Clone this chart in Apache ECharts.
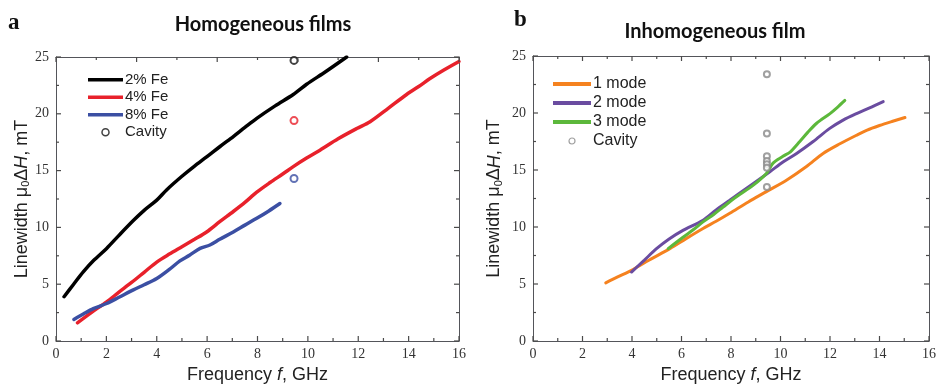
<!DOCTYPE html>
<html>
<head>
<meta charset="utf-8">
<script src="https://cdn.jsdelivr.net/npm/echarts@6/dist/echarts.min.js"></script>
<style>
  html, body { margin: 0; padding: 0; background: #fff; }
  #chart { width: 937px; height: 384px; }
</style>
</head>
<body>
<div id="chart"></div>
<script>
// Panel a: homogeneous films, linewidth vs frequency [GHz, mT]
const fe2 = [[0.32,3.9],[0.7,5.0],[1.09,6.1],[1.5,7.1],[2.01,8.15],[2.5,9.3],[3.07,10.6],[3.5,11.5],[4.0,12.4],[4.39,13.3],[5.0,14.5],[5.5,15.4],[5.98,16.2],[6.5,17.1],[7.04,18.0],[7.5,18.8],[7.97,19.6],[8.7,20.7],[9.42,21.7],[9.95,22.6],[10.7,23.7],[11.54,25.0]];
const fe4 = [[0.85,1.6],[1.4,2.5],[2.01,3.45],[2.5,4.3],[3.0,5.15],[3.5,6.05],[4.0,6.95],[4.5,7.65],[5.0,8.3],[5.5,8.95],[5.98,9.6],[6.5,10.5],[7.04,11.4],[7.5,12.2],[7.97,13.1],[8.5,13.95],[9.0,14.7],[9.42,15.35],[9.95,16.1],[10.48,16.8],[11.2,17.8],[11.94,18.7],[12.47,19.3],[13.2,20.5],[13.92,21.7],[14.4,22.4],[14.85,23.1],[15.4,23.85],[16.0,24.6]];
const fe8 = [[0.71,1.9],[1.1,2.4],[1.48,2.85],[2.01,3.3],[2.5,3.85],[3.07,4.5],[3.5,4.95],[4.0,5.5],[4.5,6.3],[4.92,7.05],[5.3,7.55],[5.72,8.15],[6.11,8.45],[6.5,8.95],[7.04,9.6],[7.5,10.2],[7.97,10.8],[8.45,11.45],[8.89,12.1]];
const cavityA = [[9.45,24.7],[9.45,19.4],[9.45,14.3]];
const cavityAColors = ['#111111','#e8212b','#3b4fa3'];

// Panel b: inhomogeneous film, one to three modes
const mode1 = [[2.94,5.1],[3.4,5.6],[3.98,6.2],[4.7,7.1],[5.53,8.1],[6.2,9.0],[6.87,9.87],[7.4,10.5],[7.95,11.2],[8.7,12.2],[9.43,13.1],[10.24,14.1],[11.05,15.3],[11.72,16.45],[12.4,17.3],[13.07,18.05],[13.5,18.5],[14.0,18.9],[14.5,19.25],[15.03,19.6]];
const mode2 = [[3.98,6.05],[4.5,7.1],[4.99,8.1],[5.5,8.95],[6.06,9.7],[6.87,10.6],[7.4,11.5],[7.95,12.35],[8.4,13.05],[8.89,13.8],[9.57,14.85],[10.1,15.7],[10.65,16.45],[11.32,17.5],[11.99,18.65],[12.53,19.38],[13.07,19.95],[13.6,20.45],[14.15,21.0]];
const mode3 = [[5.46,8.1],[6.06,9.1],[6.5,9.8],[6.87,10.45],[7.3,11.1],[7.68,11.75],[8.22,12.65],[8.89,13.65],[9.43,14.7],[9.7,15.6],[10.1,16.2],[10.4,16.6],[10.78,17.5],[11.1,18.3],[11.46,19.1],[12.0,19.95],[12.3,20.5],[12.6,21.1]];
const cavityB = [[9.45,23.4],[9.45,18.2],[9.45,16.2],[9.45,15.8],[9.45,15.5],[9.45,15.2],[9.45,13.5]];

const xTicks = [0, 2, 4, 6, 8, 10, 12, 14, 16];
const yTicks = [0, 5, 10, 15, 20, 25];

const AXIS_COLOR = '#4a4a4a';
const SANS = 'Liberation Sans';
const SERIF = 'Liberation Serif';

const yName = '{a|Linewidth μ}{s|0}{a|Δ}{i|H}{a|, mT}';
const xName = '{a|Frequency }{i|f}{a|, GHz}';
const nameRich = {
  a: { fontFamily: SANS, fontSize: 18, color: '#222' },
  i: { fontFamily: SANS, fontSize: 18, fontStyle: 'italic', color: '#222' },
  s: { fontFamily: SANS, fontSize: 11, color: '#222', verticalAlign: 'bottom', padding: [8, 0, 0, 0] }
};

const chart = echarts.init(document.getElementById('chart'));

// Plot frames of the two panels (grid offsets in px); topMax is the range of the unlabelled top scale
const frames = [
  { left: 56, right: 478, top: 57, bottom: 43, topMax: 10 },
  { left: 533, right: 8, top: 56, bottom: 43, topMax: 16 }
];

const grids = [];
const xAxes = [];
const yAxes = [];

// mirrored: the top/right frame axes, which must not snap to the zero line
function frameAxis(mirrored, extra) {
  const line = mirrored ? { show: true, onZero: false } : { show: true };
  return Object.assign({
    type: 'value',
    axisLine: line,
    axisTick: { show: false },
    minorTick: { show: false },
    splitLine: { show: false },
    axisLabel: { show: false }
  }, extra);
}

// axis order per panel k: x 2k = bottom, x 2k+1 = top, y 2k = left, y 2k+1 = right
frames.forEach((f, k) => {
  grids.push({ left: f.left, right: f.right, top: f.top, bottom: f.bottom, outerBoundsMode: 'none' });
  xAxes.push(
    frameAxis(false, {
      gridIndex: k, position: 'bottom', min: xTicks[0], max: xTicks[xTicks.length - 1], interval: 2,
      axisLabel: { show: true, fontFamily: SERIF, fontSize: 14, color: '#333', margin: 6 },
      name: xName, nameLocation: 'middle', nameGap: k === 0 ? 23 : 22, nameTextStyle: { rich: nameRich }
    }),
    frameAxis(true, { gridIndex: k, position: 'top', min: 0, max: f.topMax, interval: 2 })
  );
  yAxes.push(
    frameAxis(false, {
      gridIndex: k, position: 'left', min: yTicks[0], max: yTicks[yTicks.length - 1], interval: 5,
      axisLabel: { show: true, fontFamily: SERIF, fontSize: 14, color: '#333', margin: 7 },
      name: yName, nameLocation: 'middle', nameGap: k === 0 ? 24 : 29, nameRotate: 90, nameTextStyle: { rich: nameRich }
    }),
    frameAxis(true, { gridIndex: k, position: 'right', min: 0, max: 25, interval: 5 })
  );
});

function lineSeries(name, data, color, width, xi, yi) {
  return {
    name, type: 'line', data, xAxisIndex: xi, yAxisIndex: yi,
    symbol: 'none', showSymbol: false, smooth: 0.3, clip: true,
    lineStyle: { color, width, cap: 'round' }, itemStyle: { color },
    z: 3
  };
}

// Legend swatch for a line: a thin horizontal bar
const LINE_ICON = 'path://M0,0L40,0L40,4L0,4Z';
function lineItem(name) { return { name, icon: LINE_ICON }; }

chart.setOption({
  animation: false,
  title: [
    { text: 'a', left: 3, top: 7, textStyle: { fontFamily: SERIF, fontWeight: 'bold', fontSize: 23, color: '#111' } },
    { text: 'Homogeneous films', left: 258, top: 10, textAlign: 'center', textStyle: { fontFamily: 'Lato', fontWeight: 'bold', fontSize: 20, color: '#111' } },
    { text: 'b', left: 509, top: 4, textStyle: { fontFamily: SERIF, fontWeight: 'bold', fontSize: 23, color: '#111' } },
    { text: 'Inhomogeneous film', left: 710, top: 17, textAlign: 'center', textStyle: { fontFamily: 'Lato', fontWeight: 'bold', fontSize: 20, color: '#111' } }
  ],
  grid: grids,
  xAxis: xAxes,
  yAxis: yAxes,
  legend: [
    {
      left: 88, top: 71, padding: 0, orient: 'vertical', itemWidth: 35, itemHeight: 7, itemGap: 0,
      textStyle: { fontFamily: SANS, fontSize: 15, color: '#222', padding: [0, 0, 0, -3], lineHeight: 17.5 },
      data: [lineItem('2% Fe'), lineItem('4% Fe'), lineItem('8% Fe'),
        { name: 'Cavity', icon: 'circle', itemStyle: { color: '#fff', borderColor: '#111', borderWidth: 1.5 } }]
    },
    {
      left: 553, top: 75, padding: 0, orient: 'vertical', itemWidth: 38, itemHeight: 6, itemGap: 1,
      textStyle: { fontFamily: SANS, fontSize: 16, color: '#222', padding: [0, 0, 0, -3], lineHeight: 18 },
      data: [lineItem('1 mode'), lineItem('2 mode'), lineItem('3 mode'),
        { name: 'Cavity ', icon: 'circle', itemStyle: { color: '#fff', borderColor: '#888', borderWidth: 1.2 } }]
    }
  ],
  series: [
    lineSeries('2% Fe', fe2, '#000000', 3.5, 0, 0),
    lineSeries('4% Fe', fe4, '#e8212b', 3.5, 0, 0),
    lineSeries('8% Fe', fe8, '#3b4fa3', 3.5, 0, 0),
    {
      name: 'Cavity', type: 'scatter', xAxisIndex: 0, yAxisIndex: 0,
      symbol: 'emptyCircle', symbolSize: 7,
      itemStyle: { color: '#111', borderWidth: 1.5 },
      data: cavityA.map((p, i) => ({ value: p, itemStyle: { color: cavityAColors[i], borderColor: cavityAColors[i] } })),
      z: 4
    },
    lineSeries('1 mode', mode1, '#f5821f', 3, 2, 2),
    lineSeries('2 mode', mode2, '#6a4ca0', 3, 2, 2),
    lineSeries('3 mode', mode3, '#5cb83b', 3, 2, 2),
    {
      name: 'Cavity ', type: 'scatter', xAxisIndex: 2, yAxisIndex: 2,
      symbol: 'emptyCircle', symbolSize: 6,
      itemStyle: { color: '#888', borderColor: '#888', borderWidth: 1.2 },
      data: cavityB,
      z: 4
    }
  ]
});

// Inward frame ticks on all four sides, placed through the axes' own scales.
// Major ticks (5 px) at the labelled steps, minor ticks (3 px) halfway between.
const MAJOR = 5, MINOR = 3;
const tickLines = [];
function tick(x1, y1, x2, y2) {
  tickLines.push({
    type: 'line', silent: true, z: 10,
    shape: { x1, y1, x2, y2 },
    style: { stroke: AXIS_COLOR, lineWidth: 1.2 }
  });
}
frames.forEach((f, k) => {
  const xb = 2 * k, xt = 2 * k + 1, yl = 2 * k, yr = 2 * k + 1;
  const px = (axis, v) => chart.convertToPixel({ xAxisIndex: axis }, v);
  const py = (axis, v) => chart.convertToPixel({ yAxisIndex: axis }, v);
  const yBottom = py(yl, yTicks[0]);
  const yTop = py(yl, yTicks[yTicks.length - 1]);
  const xLeft = px(xb, xTicks[0]);
  const xRight = px(xb, xTicks[xTicks.length - 1]);
  // bottom: step 1 GHz, every 2 GHz is major
  for (let v = xTicks[0]; v <= xTicks[xTicks.length - 1]; v += 1) {
    const len = v % 2 === 0 ? MAJOR : MINOR;
    const x = px(xb, v);
    tick(x, yBottom, x, yBottom - len);
  }
  // top: its own scale, step 1, every 2 is major
  for (let v = 0; v <= f.topMax; v += 1) {
    const len = v % 2 === 0 ? MAJOR : MINOR;
    const x = px(xt, v);
    tick(x, yTop, x, yTop + len);
  }
  // left and right: step 2.5 mT, every 5 mT is major
  for (let v = yTicks[0]; v <= yTicks[yTicks.length - 1]; v += 2.5) {
    const len = v % 5 === 0 ? MAJOR : MINOR;
    const yL = py(yl, v);
    const yR = py(yr, v);
    tick(xLeft, yL, xLeft + len, yL);
    tick(xRight, yR, xRight - len, yR);
  }
});
chart.setOption({ graphic: { elements: tickLines } });
</script>
</body>
</html>
